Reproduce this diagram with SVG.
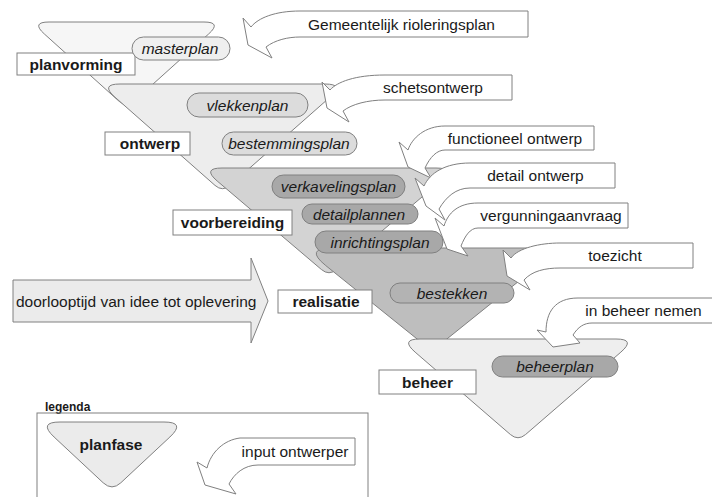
<svg xmlns="http://www.w3.org/2000/svg" width="712" height="497" viewBox="0 0 712 497">
<style>
text{font-family:"Liberation Sans",Arial,sans-serif;fill:#1a1a1a;font-size:15.5px;text-anchor:middle}
.b{font-weight:bold}
.i{font-style:italic}
.ln{stroke:#808080;stroke-width:1}
.lbl{fill:#fff;stroke:#808080;stroke-width:1}
.arr{fill:#fff;stroke:#808080;stroke-width:1;stroke-linejoin:miter}
.p1{fill:#efefef}
.p2{fill:#dcdcdc}
.p3{fill:#a8a8a8}
.p4{fill:#b3b3b3}
</style>
<rect width="712" height="497" fill="#fff"/>

<g id="phase-planvorming">
<path class="ln" fill="#f6f6f6" d="M49,22 L204,22 Q222,22 208.6,34 L133.9,101.3 Q126.5,108 119.1,101.3 L44.4,34 Q31,22 49,22 Z"/>
<rect class="lbl" x="17" y="53" width="118" height="22"/>
<text class="b" x="76" y="69.5">planvorming</text>
</g>
<g id="phase-ontwerp">
<path class="ln" fill="#ededed" d="M120,84 L325,84 Q345,84 330,97.2 L230,185.4 Q222.5,192 215,185.4 L115,97.2 Q100,84 120,84 Z"/>
<rect class="lbl" x="105" y="132" width="85" height="23"/>
<text class="b" x="150" y="149">ontwerp</text>
</g>
<g id="phase-voorbereiding">
<path class="ln" fill="#d3d3d3" d="M222,168 L436,168 Q456,168 440.8,181 L336.6,269.5 Q329,276 321.4,269.5 L217.2,181 Q202,168 222,168 Z"/>
<rect class="lbl" x="173" y="210" width="119" height="25"/>
<text class="b" x="232.5" y="228">voorbereiding</text>
</g>
<g id="phase-realisatie">
<path class="ln" fill="#bebebe" d="M332,248 L532,248 Q560,248 538.2,265.6 L439.8,344.7 Q432,351 424.2,344.7 L325.8,265.6 Q304,248 332,248 Z"/>
<rect class="lbl" x="278" y="290" width="94" height="23"/>
<text class="b" x="326" y="307">realisatie</text>
</g>
<g id="phase-beheer">
<path class="ln" fill="#eeeeee" d="M420,339 L616,339 Q636,339 620.9,352.1 L525.6,434.5 Q518,441 510.4,434.5 L415.1,352.1 Q400,339 420,339 Z"/>
<rect class="lbl" x="379" y="370" width="97" height="24"/>
<text class="b" x="427.5" y="387.5">beheer</text>
</g>

<g id="doc-masterplan"><rect class="ln p1" x="132" y="37" width="98" height="23" rx="11.5"/><text class="i" x="180" y="54">masterplan</text></g>
<g id="doc-vlekkenplan"><rect class="ln p2" x="187" y="93" width="121" height="24" rx="12"/><text class="i" x="247.5" y="110.5">vlekkenplan</text></g>
<g id="doc-bestemmingsplan"><rect class="ln p2" x="222" y="132" width="135" height="23" rx="11.5"/><text class="i" x="289" y="149">bestemmingsplan</text></g>
<g id="doc-verkavelingsplan"><rect class="ln p3" x="272" y="175" width="133" height="23" rx="11.5"/><text class="i" x="338.5" y="192">verkavelingsplan</text></g>
<g id="doc-detailplannen"><rect class="ln p3" x="302" y="204" width="116" height="20" rx="10"/><text class="i" x="359" y="219.5">detailplannen</text></g>
<g id="doc-inrichtingsplan"><rect class="ln p3" x="315" y="231" width="128" height="22" rx="11"/><text class="i" x="380" y="247.5">inrichtingsplan</text></g>
<g id="doc-bestekken"><rect class="ln p4" x="390" y="283" width="124" height="20" rx="10"/><text class="i" x="452" y="298.5">bestekken</text></g>
<g id="doc-beheerplan"><rect class="ln p3" x="492" y="356" width="126" height="21" rx="10.5"/><text class="i" x="555" y="372">beheerplan</text></g>

<g id="doorlooptijd">
<path class="ln" fill="#ebebeb" d="M13,280 L251,280 L251,258 L268,301 L251,343 L251,322 L13,322 Z"/>
<text x="16" y="306.5" style="text-anchor:start">doorlooptijd van idee tot oplevering</text>
</g>

<g id="legenda">
<text class="b" x="45" y="411" style="font-size:12px;text-anchor:start">legenda</text>
<rect x="37" y="413" width="331" height="100" fill="none" class="ln"/>
<path class="ln" fill="#ebebeb" d="M60,422 L164,422 Q186,422 169.9,437 L120.8,482.8 Q112,491 103.2,482.8 L54.1,437 Q38,422 60,422 Z"/>
<text class="b" x="111" y="450">planfase</text>
<path class="arr" d="M355,438 L240,438 C224,440 211,452 207,468 L197,462 L205,485 L236,494 L229,484 C234,474 244,465 258,465 L355,465 Z"/>
<text x="295" y="457">input ontwerper</text>
</g>

<g id="connectors">
<g id="in-gemeentelijk">
<path class="arr" d="M528,11 L300,11 C275,11 258,18 251,27 L243,18 L248,45 L272,58 L266,47 C275,40 288,37 300,37 L528,37 Z"/>
<text x="401.5" y="29.5">Gemeentelijk rioleringsplan</text>
</g>
<g id="in-schetsontwerp">
<path class="arr" d="M512,75 L385,75 C355,75 337,82 330,90 L322,82 L327,108 L349,122 L343,111 C352,104 368,100 385,100 L512,100 Z"/>
<text x="433" y="93">schetsontwerp</text>
</g>
<g id="in-functioneel">
<path class="arr" d="M594,126 L445,126 C425,126 412,138 408,150 L399,142 L408,167 L431,178 L425,168 C430,157 437,150 445,150 L594,150 Z"/>
<text x="515" y="143.5">functioneel ontwerp</text>
</g>
<g id="in-detail">
<path class="arr" d="M615,163 L470,163 C445,163 430,173 424,186 L415,178 L426,206 L445,220 L439,209 C446,197 456,188 470,188 L615,188 Z"/>
<text x="535.5" y="181">detail ontwerp</text>
</g>
<g id="in-vergunning">
<path class="arr" d="M628,203 L478,203 C458,203 448,213 444,226 L435,218 L447,249 L468,256 L461,246 C465,236 470,228 478,228 L628,228 Z"/>
<text x="551" y="221">vergunningaanvraag</text>
</g>
<g id="in-toezicht">
<path class="arr" d="M693,243 L560,243 C540,243 518,248 511,258 L503,250 L507,276 L530,290 L524,280 C532,271 545,268 560,268 L693,268 Z"/>
<text x="615" y="261">toezicht</text>
</g>
<g id="in-beheer">
<path class="arr" d="M720,298 L578,298 C555,298 546,312 546,332 L537,330 L553,347 L580,343 L573,335 C578,327 584,323 592,323 L720,323 Z"/>
<text x="643.5" y="316">in beheer nemen</text>
</g>
</g>
</svg>
